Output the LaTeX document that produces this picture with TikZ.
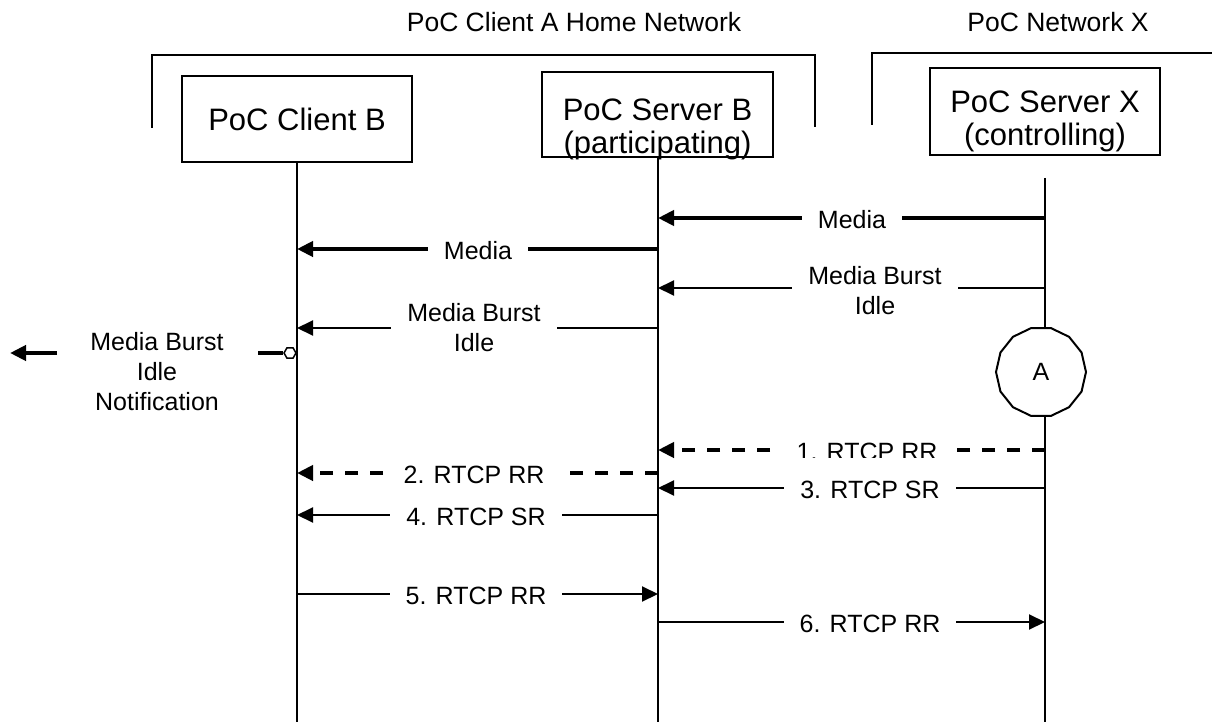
\documentclass[tikz,border=0pt]{standalone}
\usepackage{fontspec}
\setmainfont{Liberation Sans}
\usetikzlibrary{arrows.meta,shapes.geometric}
\begin{document}
\begin{tikzpicture}[x=1pt,y=-1pt,
  frame/.style={line width=2pt},
  boxnode/.style={draw,line width=2pt,minimum width=230pt,inner sep=0pt},
  boxtxt/.style={font=\fontsize{31}{33}\selectfont,align=center,inner sep=0pt},
  lifeline/.style={line width=2pt},
  msg/.style={line width=2pt,-{Triangle[length=16pt,width=15pt]}},
  msgthick/.style={line width=4pt,-{Triangle[length=16pt,width=15pt]}},
  msgdash/.style={msgthick,dash pattern=on 13pt off 12pt},
  lbl/.style={fill=white,font=\fontsize{25}{30}\selectfont,inner xsep=16pt,inner ysep=2pt,align=center},
  title/.style={font=\fontsize{26.5}{30}\selectfont,inner sep=0pt},
]
\useasboundingbox (0,0) rectangle (1212,722);

% network titles and frames
\node[title] (tA) at (574,22) {PoC Client A Home Network};
\node[title] (tX) at (1058,22) {PoC Network X};
\draw[frame] (152,128) -- (152,55) -- (815,55) -- (815,127);
\draw[frame] (872,125) -- (872,53) -- (1212,53);

% entity boxes
\node[boxnode,minimum height=86pt] (cb) at (297,119) {};
\node[boxtxt] (cbt) at (297,119) {PoC Client B};
\node[boxnode,minimum width=231pt,minimum height=85pt] (sb) at (657.5,114.5) {};
\node[boxtxt] (sbt) at (657.5,129) {PoC Server B\\(participating)};
\node[boxnode,minimum height=87pt] (sx) at (1045,111.5) {};
\node[boxtxt] (sxt) at (1045,121) {PoC Server X\\(controlling)};

% circle A
\node[draw,line width=2pt,regular polygon,regular polygon sides=14,minimum size=90pt,inner sep=0pt,
      font=\fontsize{25}{30}\selectfont] (cA) at (1041,372) {\raisebox{-3pt}{A}};

% lifeline coordinates
\coordinate (cTop) at (297,162);
\coordinate (cBot) at (297,722);
\coordinate (sTop) at (658,157);
\coordinate (sBot) at (658,722);
\coordinate (xTop) at (1045,178);
\coordinate (xA1) at (1045,329);
\coordinate (xA2) at (1045,415);
\coordinate (xBot) at (1045,722);
\draw[lifeline] (cTop) -- (cBot);
\draw[lifeline] (sTop) -- (sBot);
\draw[lifeline] (xTop) -- (xA1);
\draw[lifeline] (xA2) -- (xBot);

% message end points
\coordinate (x1) at (1045,218); \coordinate (s1) at (658,218);
\coordinate (s2) at (658,249);  \coordinate (c2) at (297,249);
\coordinate (x3) at (1045,288); \coordinate (s3) at (658,288);
\coordinate (s4) at (658,328);  \coordinate (c4) at (297,328);
\coordinate (x5) at (1045,450); \coordinate (s5) at (658,450);
\coordinate (s6) at (658,473);  \coordinate (c6) at (297,473);
\coordinate (x7) at (1045,488); \coordinate (s7) at (658,488);
\coordinate (s8) at (658,515);  \coordinate (c8) at (297,515);
\coordinate (c9) at (297,594);  \coordinate (s9) at (658,594);
\coordinate (s10) at (658,622); \coordinate (x10) at (1045,622);

% messages
\draw[msgthick] (x1) -- (s1);
\node[lbl] (l1) at (852,220) {Media};
\draw[msgthick] (s2) -- (c2);
\node[lbl] (l2) at (478,251) {Media};
\draw[msg] (x3) -- (s3);
\node[lbl] (l3) at (875,291) {Media Burst\\Idle};
\draw[msg] (s4) -- (c4);
\node[lbl] (l4) at (474,328) {Media Burst\\Idle};
\draw[msgdash] (x5) -- (s5);
\node[lbl] (l5) at (867,452) {1. RTCP RR};
\draw[msgdash] (s6) -- (c6);
\node[lbl] (l6) at (474,475) {2. RTCP RR};
\draw[msg] (x7) -- (s7);
\node[lbl,minimum height=64pt] (l7) at (870,490) {3. RTCP SR};
\draw[msg] (s8) -- (c8);
\node[lbl] (l8) at (476,517) {4. RTCP SR};
\draw[msg] (c9) -- (s9);
\node[lbl] (l9) at (476,596) {5. RTCP RR};
\draw[msg] (s10) -- (x10);
\node[lbl] (l10) at (870,624) {6. RTCP RR};

% media burst idle notification
\node[draw,line width=1.5pt,fill=white,regular polygon,regular polygon sides=6,minimum size=12pt,inner sep=0pt] (hx) at (290,353) {};
\coordinate (nR) at (258,353);
\draw[line width=4pt] (nR) -- (hx.west);
\node[font=\fontsize{25}{30}\selectfont,align=center,inner sep=0pt] (nt) at (157,372) {Media Burst\\Idle\\Notification};
\coordinate (nL1) at (57,353);
\coordinate (nL2) at (10,353);
\draw[msgthick] (nL1) -- (nL2);
\end{tikzpicture}
\end{document}
